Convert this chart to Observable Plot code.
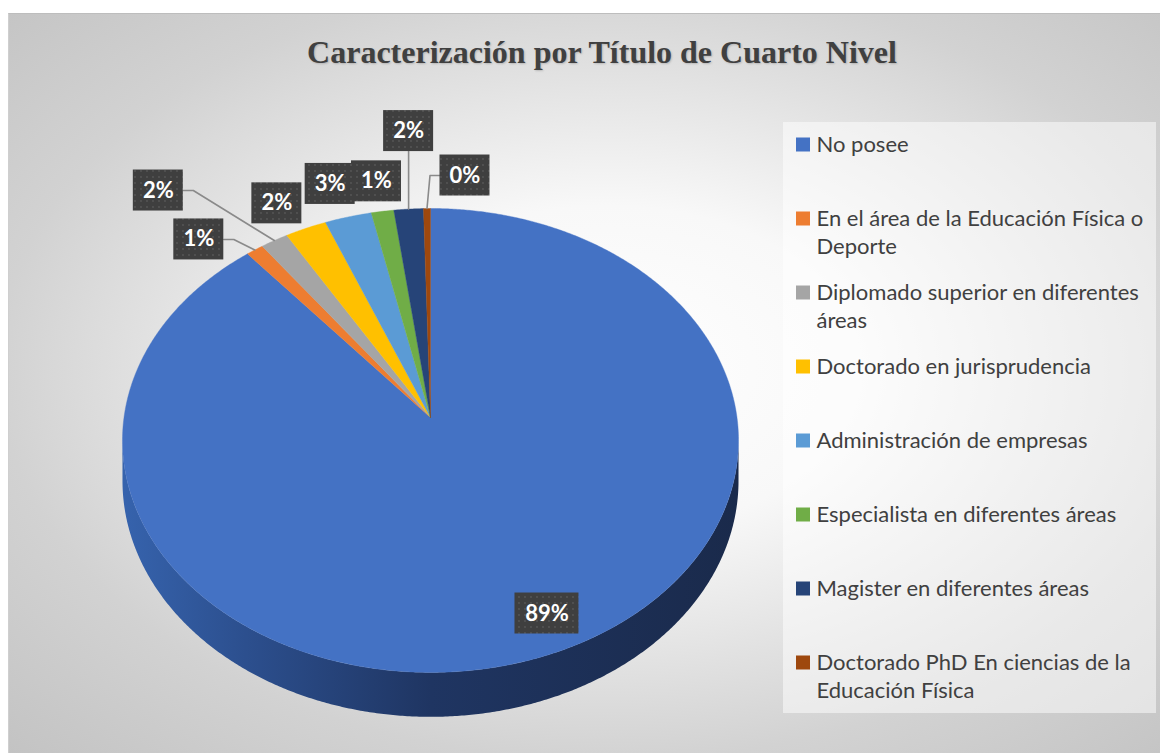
<!DOCTYPE html>
<html><head><meta charset="utf-8">
<script src="https://cdn.jsdelivr.net/npm/d3@7"></script>
<script src="https://cdn.jsdelivr.net/npm/@observablehq/plot@0.6"></script>
<style>
html,body{margin:0;padding:0;background:#fff;}
#wrap{position:relative;width:1160px;height:753px;overflow:hidden;}
#frame{position:absolute;left:8px;top:13px;width:1152px;height:740px;border-top:1px solid #bdbdbd;border-left:1px solid #cfcfcf;box-sizing:border-box;
 background: radial-gradient(ellipse farthest-corner at 52% 48%, #ffffff 0%, #f8f8f8 30%, #e1e1e1 55%, #d2d2d2 72%, #c3c3c3 100%);}
#title{position:absolute;left:26px;width:1152px;top:36px;text-align:center;font-family:"Liberation Serif","Times New Roman",serif;font-weight:bold;font-size:32px;line-height:32px;color:#404040;text-shadow:1px 1px 2px rgba(0,0,0,0.18);}
#chart{position:absolute;left:0;top:0;}
</style></head>
<body><div id="wrap"><div id="frame"></div><div id="title">Caracterización por Título de Cuarto Nivel</div><div id="chart"></div></div>
<script>
// ---- data ----
const categories = [
  "No posee",
  "En el área de la Educación Física o Deporte",
  "Diplomado superior en diferentes áreas",
  "Doctorado en jurisprudencia",
  "Administración de empresas",
  "Especialista en diferentes áreas",
  "Magister en diferentes áreas",
  "Doctorado PhD En ciencias de la Educación Física"
];
const values = [88.9, 1.0, 1.6, 2.4, 2.7, 1.3, 1.7, 0.4];
const colors = ["#4472c4","#ed7d31","#a5a5a5","#ffc000","#5b9bd5","#70ad47","#264478","#9e480e"];

// ---- layout (label nudges relative to each slice's rim midpoint) ----
const labelOffsets = [[1,-42],[-56,-10.5],[-116,-50],[-29,-25],[-18,-33],[-6,-30],[0,-78],[38,-33]];
const hasLeader = [false,true,true,false,false,false,true,true];

const W = 1160, H = 753;
const cx = 430, cy = 417, R = 306.5, K = 0.7494, P = 0.099, DEPTH = 40;
function proj(rad, r = 1, dz = 0) {
  const u = r * Math.sin(rad), v = -r * Math.cos(rad);
  const s = 1 / (1 - P * v);
  return {x: cx + R * u * s, y: cy + R * K * v * s + DEPTH * dz * s};
}
const deg = Math.PI / 180;
const arcs = d3.pie().sort(null).value(d => d)(values);

// slices (top surface)
const slicePts = [];
arcs.forEach((a, i) => {
  const name = categories[i];
  const c = proj(0, 0);
  slicePts.push({name, ...c});
  const n = Math.max(2, Math.ceil((a.endAngle - a.startAngle) / (0.4 * deg)));
  for (let j = 0; j <= n; j++) {
    const t = a.startAngle + (a.endAngle - a.startAngle) * j / n;
    slicePts.push({name, ...proj(t)});
  }
  slicePts.push({name, ...c});
});

// visible side (front)
const tR = Math.acos(-P), tL = 2 * Math.PI - Math.acos(-P);
const sidePts = [];
for (let t = tR; t <= tL + 1e-9; t += 0.4 * deg) sidePts.push(proj(t));
sidePts.push(proj(tL));
for (let t = tL; t >= tR - 1e-9; t -= 0.4 * deg) sidePts.push(proj(t, 1, 1));
sidePts.push(proj(tR, 1, 1));

// shadow silhouette
const shadowPts = [];
for (let t = tL; t <= tR + 2 * Math.PI + 1e-9; t += 0.5 * deg) shadowPts.push(proj(t));
for (let t = tR; t <= tL + 1e-9; t += 0.5 * deg) shadowPts.push(proj(t, 1, 1));
const shadow = shadowPts.map(p => ({x: cx + (p.x - cx) * 1.065, y: p.y + 18}));

// data labels
const labels = arcs.map((a, i) => {
  const mid = (a.startAngle + a.endAngle) / 2;
  const anchor = proj(mid);
  const text = Math.round(values[i]) + "%";
  const w = 22 + 14 * text.length, h = 41;
  const x = anchor.x + labelOffsets[i][0], y = anchor.y + labelOffsets[i][1];
  return {i, text, x, y, x1: x - w / 2, x2: x + w / 2, y1: y - h / 2, y2: y + h / 2, anchor};
});
const leaderPts = [];
labels.forEach(l => {
  if (!hasLeader[l.i]) return;
  const A = l.anchor;
  if (A.x >= l.x1 && A.x <= l.x2) {
    leaderPts.push({id: l.i, x: A.x, y: l.y2}, {id: l.i, x: A.x, y: A.y});
  } else if (A.x > l.x2) {
    leaderPts.push({id: l.i, x: l.x2, y: l.y}, {id: l.i, x: l.x2 + 10, y: l.y}, {id: l.i, x: A.x, y: A.y});
  } else {
    leaderPts.push({id: l.i, x: l.x1, y: l.y}, {id: l.i, x: l.x1 - 10, y: l.y}, {id: l.i, x: A.x, y: A.y});
  }
});

// legend
function wrap(s, max) {
  const words = s.split(" "); const lines = []; let cur = "";
  for (const w of words) {
    if (cur && (cur + " " + w).length > max) { lines.push(cur); cur = w; }
    else cur = cur ? cur + " " + w : w;
  }
  lines.push(cur); return lines;
}
const legFs = 22;
const legend = categories.map((name, i) => {
  const yc = 144.5 + i * 74;
  return {name, yc, x1: 796, x2: 810, y1: yc - 7, y2: yc + 7};
});
const legendLines = legend.flatMap(d => wrap(d.name, 35).map((line, li) => ({line, y: d.yc + li * 28})));
const legendBox = [{x1: 783, x2: 1156, y1: 122, y2: 713}];

const plot = Plot.plot({
  width: W, height: H, margin: 0,
  x: {type: "linear", domain: [0, W], range: [0, W], axis: null},
  y: {type: "linear", domain: [0, H], range: [0, H], axis: null},
  color: {domain: categories, range: colors},
  style: {background: "transparent", overflow: "visible"},
  marks: [
    Plot.line(shadow, {x: "x", y: "y", fill: "#000", fillOpacity: 0.5, stroke: "none", curve: "linear", ariaLabel: "pieshadow"}),
    Plot.line(sidePts, {x: "x", y: "y", fill: "url(#sideGrad)", stroke: "none", curve: "linear"}),
    Plot.line(slicePts, {x: "x", y: "y", z: "name", fill: "name", stroke: "name", strokeWidth: 0.4, curve: "linear"}),
    Plot.line(leaderPts, {x: "x", y: "y", z: "id", stroke: "#8a8a8a", strokeWidth: 1.6, curve: "linear"}),
    Plot.rect(legendBox, {x1: "x1", x2: "x2", y1: "y1", y2: "y2", fill: "#ffffff", fillOpacity: 0.5}),
    Plot.rect(legend, {x1: "x1", x2: "x2", y1: "y1", y2: "y2", fill: "name"}),
    Plot.text(legendLines, {x: 816, y: "y", text: "line", textAnchor: "start", lineAnchor: "middle",
      fontSize: legFs, fill: "#404040", fontFamily: "Lato, 'Open Sans', sans-serif"}),
    Plot.rect(labels, {x1: "x1", x2: "x2", y1: "y1", y2: "y2", fill: "url(#dots)", ariaLabel: "labelbox"}),
    Plot.text(labels, {x: "x", y: "y", text: "text", fill: "#ffffff", fontWeight: "bold", fontSize: 22,
      fontFamily: "Lato, 'Open Sans', sans-serif"})
  ]
});

const ns = "http://www.w3.org/2000/svg";
const defs = document.createElementNS(ns, "defs");
const xl = proj(tL).x, xr = proj(tR).x;
defs.innerHTML = `
<linearGradient id="sideGrad" gradientUnits="userSpaceOnUse" x1="${xl}" y1="0" x2="${xr}" y2="0">
  <stop offset="0" stop-color="#3663ad"/>
  <stop offset="0.2" stop-color="#2c4f8e"/>
  <stop offset="0.5" stop-color="#1f3562"/>
  <stop offset="1" stop-color="#1a2a4b"/>
</linearGradient>
<pattern id="dots" patternUnits="userSpaceOnUse" width="6" height="6">
  <rect width="6" height="6" fill="#3f3f3f"/>
  <circle cx="3" cy="3" r="0.9" fill="#575757"/>
</pattern>
<filter id="blurShadow" x="-20%" y="-20%" width="140%" height="140%"><feGaussianBlur stdDeviation="7"/></filter>
<filter id="boxShadow" x="-30%" y="-30%" width="160%" height="160%"><feDropShadow dx="2.5" dy="2.5" stdDeviation="2" flood-color="#000" flood-opacity="0.45"/></filter>`;
plot.insertBefore(defs, plot.firstChild);
const sh = plot.querySelector('g[aria-label="pieshadow"]'); if (sh) sh.setAttribute("filter", "url(#blurShadow)");
const lb = plot.querySelector('g[aria-label="labelbox"]'); if (lb) lb.setAttribute("filter", "url(#boxShadow)");
document.getElementById("chart").appendChild(plot);
</script>
</body></html>
